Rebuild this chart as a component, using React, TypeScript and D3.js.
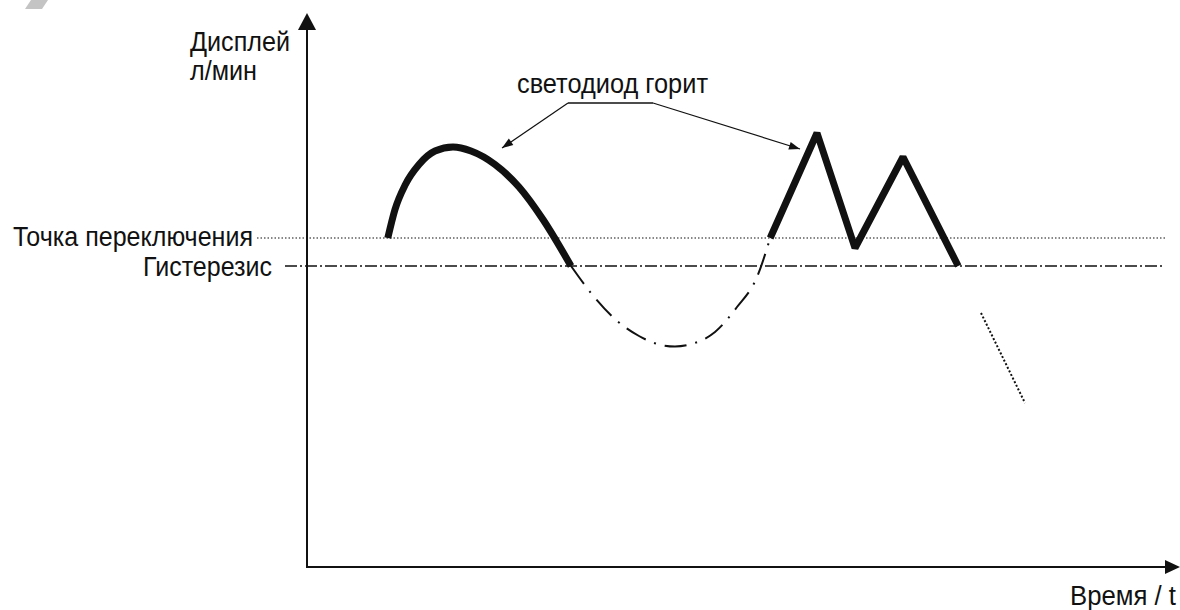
import React from "react";
import * as d3 from "d3";

// ---- data (abstract units: time 0..100, display 0..100) ----
const switchLevel = 65.8;
const hysteresisLevel = 60.2;

const ledArcT = [10.1, 11, 12.3, 14, 16, 18.25, 20.5, 23.5, 26.5, 29.5, 33];
const ledArcV = [65.8, 71.5, 76.5, 80.5, 83.2, 84, 83.2, 80.5, 76, 69.5, 60.2];

const dipT = [33, 35.5, 38.5, 41.5, 44, 46, 48.5, 51, 53.75, 56.25, 57.9];
const dipV = [60.2, 54.8, 49.6, 46.2, 44.5, 44.1, 44.8, 47, 52, 58, 65.8];

const zigT = [57.9, 63.75, 68.5, 74.5, 81.4];
const zigV = [65.8, 86.8, 63.8, 82, 60.2];

const tailT = [84.25, 89.75];
const tailV = [50.8, 32.8];

const labels = {
  yTitle1: "Дисплей",
  yTitle2: "л/мин",
  xTitle: "Время / t",
  switchLabel: "Точка переключения",
  hystLabel: "Гистерезис",
  note: "светодиод горит",
};

const W = 1180;
const H = 610;

export default function App() {
  const x = d3.scaleLinear().domain([0, 100]).range([307, 1107]);
  const y = d3.scaleLinear().domain([0, 100]).range([567, 67]);

  const toPts = (ts: number[], vs: number[]) => ts.map((t, i) => [t, vs[i]] as [number, number]);

  const smooth = d3
    .line<[number, number]>()
    .x((d) => x(d[0]))
    .y((d) => y(d[1]))
    .curve(d3.curveMonotoneX);
  const straight = d3
    .line<[number, number]>()
    .x((d) => x(d[0]))
    .y((d) => y(d[1]));

  const ink = "#111";
  const font = "'Liberation Sans', Arial, sans-serif";
  const fs = 27;

  const ax0 = x(0);
  const ay0 = y(0);
  const lineEnd = 1165;

  // annotation leader
  const lx1 = 568, lx2 = 653, ly = 103;
  const tipL: [number, number] = [502, 148];
  const tipR: [number, number] = [800, 149];
  const arrowHead = (from: [number, number], tip: [number, number], len = 11, half = 4) => {
    const dx = tip[0] - from[0];
    const dy = tip[1] - from[1];
    const L = Math.hypot(dx, dy);
    const ux = dx / L, uy = dy / L;
    const bx = tip[0] - ux * len, by = tip[1] - uy * len;
    return `M${tip[0]},${tip[1]}L${bx - uy * half},${by + ux * half}L${bx + uy * half},${by - ux * half}Z`;
  };

  return (
    <div style={{ position: "absolute", left: 0, top: 0 }}>
      <svg width={W} height={H} style={{ display: "block", background: "#fff" }}>
        {/* watermark fragment */}
        <path d="M25,9L42,9L48,0L31,0Z" fill="#c4c4c4" />

        {/* reference lines */}
        <line x1={257} x2={lineEnd} y1={y(switchLevel)} y2={y(switchLevel)} stroke={ink} strokeWidth={1.2} strokeDasharray="1.5,2" />
        <line x1={285} x2={lineEnd} y1={y(hysteresisLevel)} y2={y(hysteresisLevel)} stroke={ink} strokeWidth={1.4} strokeDasharray="12,3,2,3" />

        {/* axes */}
        <line x1={ax0} x2={ax0} y1={ay0 + 1} y2={28} stroke={ink} strokeWidth={2} />
        <path d={`M${ax0},13L${ax0 - 9},30L${ax0 + 9},30Z`} fill={ink} />
        <line x1={ax0 - 1} x2={1166} y1={ay0} y2={ay0} stroke={ink} strokeWidth={2} />
        <path d={`M1180,${ay0}L1165,${ay0 - 7}L1165,${ay0 + 7}Z`} fill={ink} />

        {/* dipped (LED off) part */}
        <path d={smooth(toPts(dipT, dipV)) || ""} fill="none" stroke={ink} strokeWidth={2} strokeDasharray="22,9,2,9" />
        <path d={straight(toPts(tailT, tailV)) || ""} fill="none" stroke={ink} strokeWidth={2} strokeDasharray="2,2" />

        {/* LED on parts */}
        <path d={smooth(toPts(ledArcT, ledArcV)) || ""} fill="none" stroke={ink} strokeWidth={7} strokeLinecap="butt" />
        <path d={straight(toPts(zigT, zigV)) || ""} fill="none" stroke={ink} strokeWidth={7} strokeLinejoin="bevel" />

        {/* annotation */}
        <line x1={lx1} x2={lx2} y1={ly} y2={ly} stroke={ink} strokeWidth={1.5} />
        <line x1={lx1} y1={ly} x2={tipL[0]} y2={tipL[1]} stroke={ink} strokeWidth={1.2} />
        <line x1={lx2} y1={ly} x2={tipR[0]} y2={tipR[1]} stroke={ink} strokeWidth={1.2} />
        <path d={arrowHead([lx1, ly], tipL)} fill={ink} />
        <path d={arrowHead([lx2, ly], tipR)} fill={ink} />

        {/* texts */}
        <g fontFamily={font} fontSize={fs} fill={ink}>
          <text x={190} y={51} textLength={100} lengthAdjust="spacingAndGlyphs">{labels.yTitle1}</text>
          <text x={190} y={80} textLength={67} lengthAdjust="spacingAndGlyphs">{labels.yTitle2}</text>
          <text x={517} y={93} textLength={191} lengthAdjust="spacingAndGlyphs">{labels.note}</text>
          <text x={13} y={246} textLength={240} lengthAdjust="spacingAndGlyphs">{labels.switchLabel}</text>
          <text x={143} y={276} textLength={129} lengthAdjust="spacingAndGlyphs">{labels.hystLabel}</text>
          <text x={1070} y={605} textLength={106} lengthAdjust="spacingAndGlyphs">{labels.xTitle}</text>
        </g>
      </svg>
    </div>
  );
}
